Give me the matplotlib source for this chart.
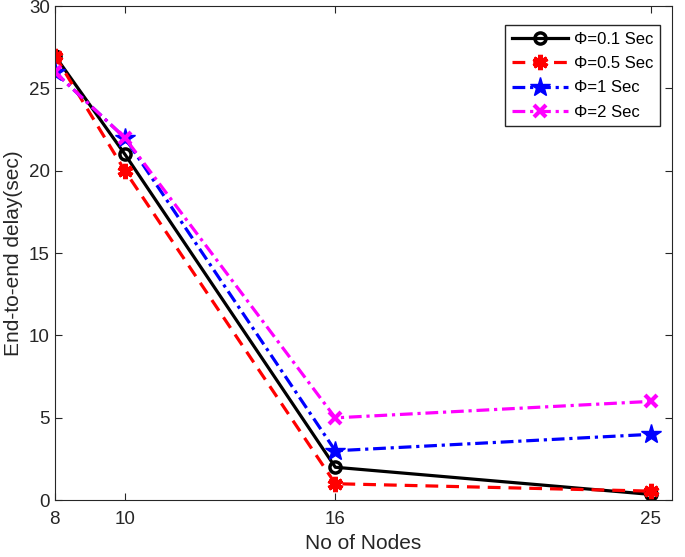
import matplotlib
matplotlib.use("Agg")
import matplotlib.pyplot as plt

plt.rcParams["font.family"] = ["Liberation Sans", "DejaVu Sans"]

nodes = [8, 10, 16, 25]
phi_01 = [27, 21, 2, 0.35]
phi_05 = [27, 20, 1, 0.55]
phi_1 = [26, 22, 3, 4]
phi_2 = [26, 22, 5, 6]

fig = plt.figure(figsize=(6.85, 5.57), dpi=100)
ax = fig.add_axes([0.080, 0.102, 0.901, 0.887])

ax.plot(nodes, phi_01, color="black", linestyle="-", linewidth=2.3,
        marker="o", markersize=8, markerfacecolor="none", markeredgewidth=2.5,
        label="Φ=0.1 Sec")
ax.plot(nodes, phi_05, color="red", linestyle=(0, (4, 2.5)), linewidth=2.3,
        marker=(6, 2, 0), markersize=11, markeredgewidth=3.5,
        label="Φ=0.5 Sec")
ax.plot(nodes, phi_1, color="blue", linestyle=(0, (4, 1.5, 1, 1.5)), linewidth=2.3,
        marker="*", markersize=15, label="Φ=1 Sec")
ax.plot(nodes, phi_2, color="magenta", linestyle=(0, (4, 1.5, 1, 1.5)), linewidth=2.3,
        marker="x", markersize=9, markeredgewidth=3, label="Φ=2 Sec")

ax.set_xlim(8, 25.6)
ax.set_ylim(0, 30)
ax.set_xticks(nodes)
ax.set_yticks([0, 5, 10, 15, 20, 25, 30])
ax.tick_params(direction="in", top=True, right=True, labelsize=13.5, length=5,
               colors="#262626")
ax.tick_params(axis="x", pad=8)
for spine in ax.spines.values():
    spine.set_color("#262626")
ax.set_xlabel("No of Nodes", fontsize=15, color="#262626", labelpad=4)
ax.set_ylabel("End-to-end delay(sec)", fontsize=15, color="#262626")

leg = ax.legend(loc="upper right", bbox_to_anchor=(0.981, 0.961), fontsize=12,
                fancybox=False, framealpha=1, edgecolor="#262626",
                handlelength=3.4, borderpad=0.4, labelspacing=0.55,
                handletextpad=0.35, borderaxespad=0)
leg.get_frame().set_linewidth(1.0)

fig.savefig("out.png", dpi=100)
